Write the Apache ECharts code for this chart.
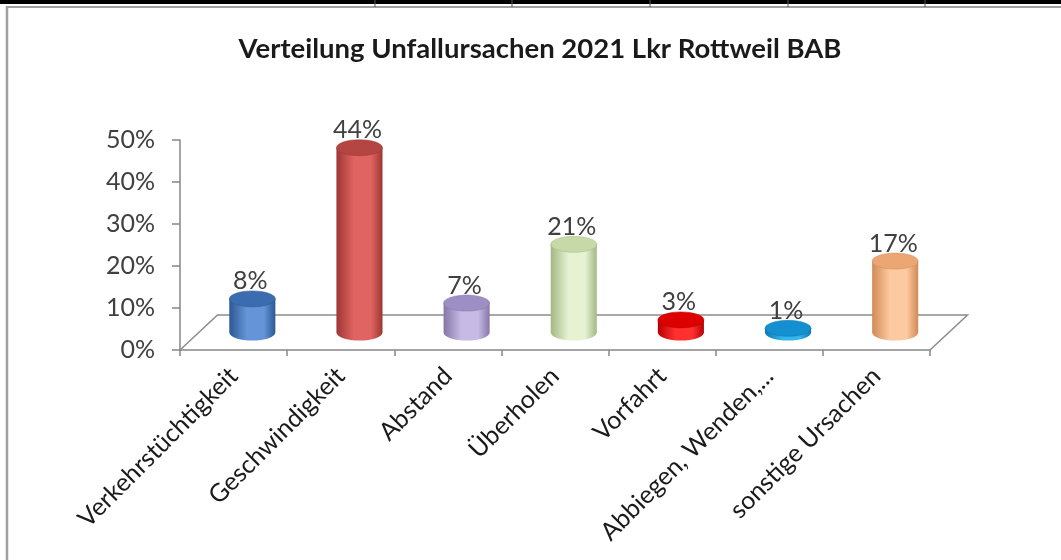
<!DOCTYPE html>
<html>
<head>
<meta charset="utf-8">
<script src="https://cdn.jsdelivr.net/npm/echarts@6/dist/echarts.min.js"></script>
<style>
html,body{margin:0;padding:0;background:#fff;}
#c{width:1061px;height:560px;}
</style>
</head>
<body>
<div id="c"></div>
<script>
// ---- data ----
const titleText = 'Verteilung Unfallursachen 2021 Lkr Rottweil BAB';
const categories = ['Verkehrstüchtigkeit','Geschwindigkeit','Abstand','Überholen','Vorfahrt','Abbiegen, Wenden,...','sonstige Ursachen'];
const shares = [0.08, 0.44, 0.07, 0.21, 0.03, 0.01, 0.17];
const yTicks = [0, 0.1, 0.2, 0.3, 0.4, 0.5];

// ---- styles ----
const palette = [
  {edge:'#2c5894', mid:'#6595d8', top:'#3b6cb0'},
  {edge:'#9e3633', mid:'#e06461', top:'#b34542'},
  {edge:'#8576a8', mid:'#c7bae4', top:'#9d8ec3'},
  {edge:'#a2b882', mid:'#e6f2d2', top:'#c6d9a6'},
  {edge:'#b80000', mid:'#ff3030', top:'#dc0000'},
  {edge:'#0a78b4', mid:'#35b5ee', top:'#148fd0'},
  {edge:'#d18a55', mid:'#fdc9a0', top:'#eca673'}
];
const DEPTH_X = 37.5, DEPTH_Y = 35;   // floor depth in px
const FONT = 'Lato, "Open Sans", sans-serif';

const chart = echarts.init(document.getElementById('c'), null, {renderer:'canvas'});

function grad(c){
  return new echarts.graphic.LinearGradient(0,0,1,0,[
    {offset:0, color:c.edge},
    {offset:0.38, color:c.mid},
    {offset:0.75, color:c.mid},
    {offset:1, color:c.edge}
  ]);
}

function ellipsePath(cx, cy, rx, ry){
  return 'M'+(cx-rx)+' '+cy+' A'+rx+' '+ry+' 0 1 0 '+(cx+rx)+' '+cy+' A'+rx+' '+ry+' 0 1 0 '+(cx-rx)+' '+cy+' Z';
}

const option = {
  animation:false,
  backgroundColor:'#ffffff',
  title:{
    text:titleText,
    left:535, top:30, textAlign:'center',
    textStyle:{fontFamily:FONT, fontWeight:'bold', fontSize:27.5, color:'#1a1a1a'}
  },
  grid:{left:180, right:131, top:140, bottom:210, containLabel:false, outerBoundsMode:'none'},
  xAxis:{
    type:'category', data:categories, boundaryGap:true,
    axisLine:{show:true, lineStyle:{color:'#868686', width:1.5}},
    axisTick:{show:true, length:6, lineStyle:{color:'#868686', width:1.5}},
    axisLabel:{rotate:45, margin:22, interval:0, fontFamily:FONT, fontSize:25, color:'#1a1a1a'},
    splitLine:{show:false}
  },
  yAxis:{
    type:'value', min:yTicks[0], max:yTicks[yTicks.length-1], interval:0.1,
    axisLine:{show:true, lineStyle:{color:'#868686', width:1.5}},
    axisTick:{show:true, length:8, lineStyle:{color:'#868686', width:1.5}},
    axisLabel:{margin:25, fontFamily:FONT, fontSize:25, color:'#404040',
      formatter:function(v){return Math.round(v*100)+'%';}},
    splitLine:{show:false}
  },
  graphic:[
    {type:'rect', shape:{x:0,y:0,width:1061,height:4}, style:{fill:'#000'}, z:100},
    {type:'line', shape:{x1:375,y1:0,x2:375,y2:7}, style:{stroke:'#555',lineWidth:1}, z:101},
    {type:'line', shape:{x1:512,y1:0,x2:512,y2:7}, style:{stroke:'#555',lineWidth:1}, z:101},
    {type:'line', shape:{x1:650,y1:0,x2:650,y2:7}, style:{stroke:'#555',lineWidth:1}, z:101},
    {type:'line', shape:{x1:788,y1:0,x2:788,y2:7}, style:{stroke:'#555',lineWidth:1}, z:101},
    {type:'line', shape:{x1:925,y1:0,x2:925,y2:7}, style:{stroke:'#555',lineWidth:1}, z:101},
    {type:'line', shape:{x1:6,y1:7,x2:1061,y2:7}, style:{stroke:'#a0a0a0',lineWidth:2}, z:100},
    {type:'line', shape:{x1:7,y1:6,x2:7,y2:560}, style:{stroke:'#a0a0a0',lineWidth:2.5}, z:100}
  ],
  series:[
    {
      type:'custom', name:'floor', z:1, silent:true,
      data:[[0]],
      renderItem:function(params, api){
        const cs = params.coordSys;
        const x0 = cs.x, x1 = cs.x+cs.width, yf = cs.y+cs.height;
        return {
          type:'polyline',
          shape:{points:[[x0,yf],[x0+DEPTH_X,yf-DEPTH_Y],[x1+DEPTH_X,yf-DEPTH_Y],[x1,yf]]},
          style:{stroke:'#8c8c8c', lineWidth:1.5, fill:null}
        };
      }
    },
    {
      type:'custom', name:'Anteil', z:5, silent:true,
      data:shares.map(function(v,i){return [i, v];}),
      renderItem:function(params, api){
        const i = api.value(0), v = api.value(1);
        const top = api.coord([i, v]);
        const base = api.coord([i, 0]);
        const bw = api.size([1,0])[0];
        const rx = bw*0.215, ry = 8;
        const cx = base[0] + DEPTH_X/2;
        const yb = base[1] - DEPTH_Y/2;
        const yt = top[1] - DEPTH_Y/2;
        const c = palette[i % palette.length];
        const body = 'M'+(cx-rx)+' '+yt+' L'+(cx-rx)+' '+yb+' A'+rx+' '+ry+' 0 0 0 '+(cx+rx)+' '+yb+' L'+(cx+rx)+' '+yt+' Z';
        return {
          type:'group',
          children:[
            {type:'path', shape:{pathData:body}, style:{fill:grad(c), stroke:null}},
            {type:'path', shape:{pathData:ellipsePath(cx, yt, rx, ry)}, style:{fill:c.top, stroke:c.edge, lineWidth:0.5}},
            {type:'text', style:{text:Math.round(v*100)+'%', x:cx-2, y:yt-ry+3, align:'center', verticalAlign:'bottom',
              font:'25px '+FONT, fill:'#404040'}}
          ]
        };
      }
    }
  ]
};
chart.setOption(option);
</script>
</body>
</html>
